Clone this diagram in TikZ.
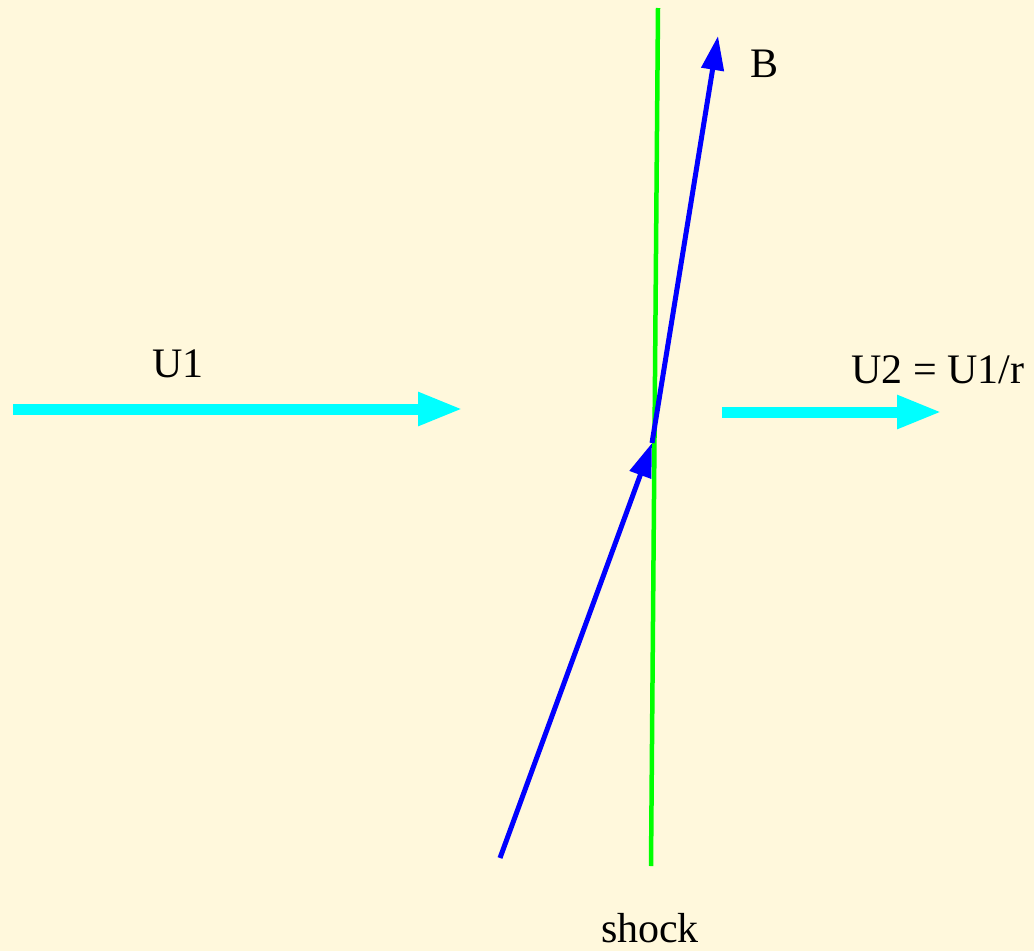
\documentclass[tikz,border=0pt]{standalone}
\usepackage{fontspec}
\setmainfont{Liberation Serif}
\usetikzlibrary{arrows.meta}
\definecolor{bg}{RGB}{255,248,220}
\definecolor{flow}{RGB}{0,255,255}
\definecolor{shockc}{RGB}{0,255,0}
\definecolor{field}{RGB}{0,0,255}
\tikzset{
  flowarrow/.style={draw=flow,line width=11pt,-{Triangle[length=45pt,width=31pt]}},
  fieldarrow/.style={draw=field,line width=5pt,-{Triangle[length=34pt,width=22pt]}},
  shockline/.style={draw=shockc,line width=4.5pt},
  lbl/.style={font=\fontsize{42}{48}\selectfont,anchor=base,inner sep=0pt}
}
\begin{document}
\begin{tikzpicture}[x=1pt,y=-1pt]
\fill[bg] (0,0) rectangle (1034,951);
\useasboundingbox (0,0) rectangle (1034,951);
\coordinate (s1) at (658,8);
\coordinate (s2) at (651,866);
\coordinate (b0) at (500,858);
\coordinate (bm) at (652,443);
\coordinate (bt) at (718,36);
\coordinate (u1s) at (13,409);
\coordinate (u1e) at (463,409);
\coordinate (u2s) at (722,412);
\coordinate (u2e) at (942,412);
\draw[shockline] (s1) -- (s2);
\draw[fieldarrow] (b0) -- (bm);
\draw[fieldarrow] (bm) -- (bt);
\draw[flowarrow] (u1s) -- (u1e);
\draw[flowarrow] (u2s) -- (u2e);
\node[lbl] (lu1) at (178,377) {U1};
\node[lbl] (lb) at (764,77) {B};
\node[lbl] (lu2) at (938,383) {U2 = U1/r};
\node[lbl] (ls) at (650,942) {shock};
\end{tikzpicture}
\end{document}
